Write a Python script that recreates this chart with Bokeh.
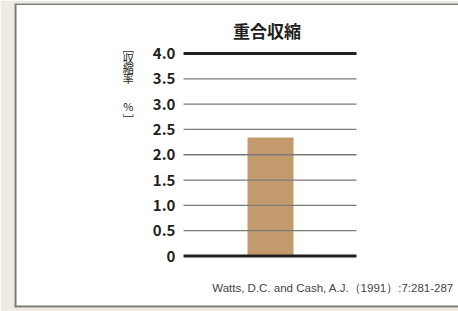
from bokeh.plotting import figure
from bokeh.models import Range1d, Span
from bokeh.core.properties import value
from bokeh.embed import file_html
from bokeh.resources import INLINE

categories = ["重合収縮"]
values = [2.34]
y_ticks = [0, 0.5, 1.0, 1.5, 2.0, 2.5, 3.0, 3.5, 4.0]
y_tick_labels = ["0", "0.5", "1.0", "1.5", "2.0", "2.5", "3.0", "3.5", "4.0"]
title_text = "重合収縮"
y_label_chars = ["﹇", "収", "縮", "率", "%", "﹈"]
source_text = "Watts, D.C. and Cash, A.J.（1991）:7:281-287"

FONT = "Noto Sans CJK JP"
DARK = "#231f20"

# 1 x-unit = 76.7 px, 1 y-unit = 50.625 px
p = figure(
    x_range=Range1d(-3.338, 2.451),
    y_range=Range1d(-1.017, 4.988),
    width=458, height=311,
    min_border_left=14, min_border_right=0,
    min_border_top=3, min_border_bottom=4,
    output_backend="svg", toolbar_location=None,
)
p.border_fill_color = "#efebe1"
p.background_fill_color = "white"
p.outline_line_color = None
p.xaxis.visible = False
p.yaxis.visible = False
p.grid.visible = False

# panel border (left, top, bottom)
BORDER = "#7b7e6f"
p.add_layout(Span(location=p.x_range.start, dimension="height", line_color=BORDER, line_width=4))
p.add_layout(Span(location=p.y_range.start, dimension="width", line_color=BORDER, line_width=4))
p.add_layout(Span(location=p.y_range.end, dimension="width", line_color=BORDER, line_width=3))

# bar
xs = list(range(len(categories)))
p.vbar(x=xs, top=values, width=0.6, color="#c29a6b", line_color=None)

# grid lines
x0, x1 = -1.134, 1.121
inner = y_ticks[1:-1]
p.segment(x0=[x0] * len(inner), x1=[x1] * len(inner), y0=inner, y1=inner,
          line_color="#7a7a7a", line_width=1.3)
outer = [y_ticks[0], y_ticks[-1]]
p.segment(x0=[x0] * 2, x1=[x1] * 2, y0=outer, y1=outer,
          line_color=DARK, line_width=3.2)

# tick labels
p.text(x=[-1.24] * len(y_ticks), y=y_ticks, text=y_tick_labels,
       text_font=value(FONT), text_font_style="bold", text_font_size="15px",
       text_color=DARK, text_align="right", text_baseline="middle")

# title
p.text(x=[-0.045], y=[4.45], text=[title_text], text_font=value(FONT),
       text_font_style="bold", text_font_size="17px", text_color=DARK,
       text_align="center", text_baseline="middle")

# vertical y label
ys = [4.11, 3.92, 3.72, 3.52, 2.97, 2.70]
p.text(x=[-1.855] * len(y_label_chars), y=ys, text=y_label_chars,
       text_font=value(FONT), text_font_size="11px", text_color=DARK,
       text_align="center", text_baseline="middle")

# source
p.text(x=[2.39], y=[-0.64], text=[source_text], text_font=value("Liberation Sans"),
       text_font_size="11.5px", text_color="#444444",
       text_align="right", text_baseline="middle")

open("out.html", "w").write(file_html(p, INLINE))
